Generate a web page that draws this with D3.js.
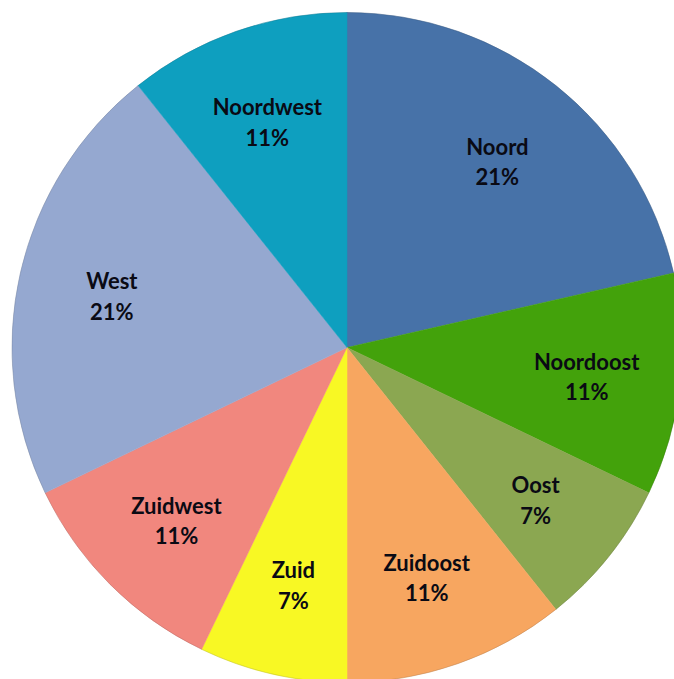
<!DOCTYPE html>
<html><head><meta charset="utf-8">
<script src="https://cdn.jsdelivr.net/npm/d3@7"></script>
<style>html,body{margin:0;padding:0;background:#fff;}svg{display:block;}</style>
</head><body>
<svg id="chart" width="674" height="679"></svg>
<script>
const categories = ["Noord","Noordoost","Oost","Zuidoost","Zuid","Zuidwest","West","Noordwest"];
const values = [6, 3, 2, 3, 2, 3, 6, 3];
const colors = ["#4772A8","#43A20B","#8BA751","#F7A660","#F8F824","#F1877E","#95A8D0","#0E9FBF"];

const W = 674, H = 679, cx = 347, cy = 347.5, R = 335;
const svg = d3.select("#chart");
const g = svg.append("g").attr("transform", `translate(${cx},${cy})`);
const total = d3.sum(values);
const data = categories.map((c,i)=>({cat:c, value:values[i], color:colors[i]}));
const pie = d3.pie().value(d=>d.value).sort(null);
const arcs = pie(data);
const arc = d3.arc().innerRadius(0).outerRadius(R);
const labelArc = d3.arc().innerRadius(R*0.72).outerRadius(R*0.72);

g.selectAll("path.slice").data(arcs).join("path")
  .attr("class","slice")
  .attr("d", arc)
  .attr("fill", d=>d.data.color)
  .attr("stroke", d=>d.data.color)
  .attr("stroke-width", 0.5);

g.append("circle").attr("r", R).attr("fill","none").attr("stroke","rgba(0,0,0,0.12)").attr("stroke-width",1);

const lab = g.selectAll("text.lbl").data(arcs).join("text")
  .attr("class","lbl")
  .attr("transform", d=>`translate(${labelArc.centroid(d)})`)
  .attr("text-anchor","middle")
  .attr("font-family","Lato, 'Open Sans', sans-serif")
  .attr("font-weight","bold")
  .attr("font-size","22px")
  .attr("fill","#0a0a14");
lab.append("tspan").attr("x",0).attr("dy","-0.2em").text(d=>d.data.cat);
lab.append("tspan").attr("x",0).attr("dy","1.38em").text(d=>Math.round(d.data.value/total*100)+"%");
</script>
</body></html>
